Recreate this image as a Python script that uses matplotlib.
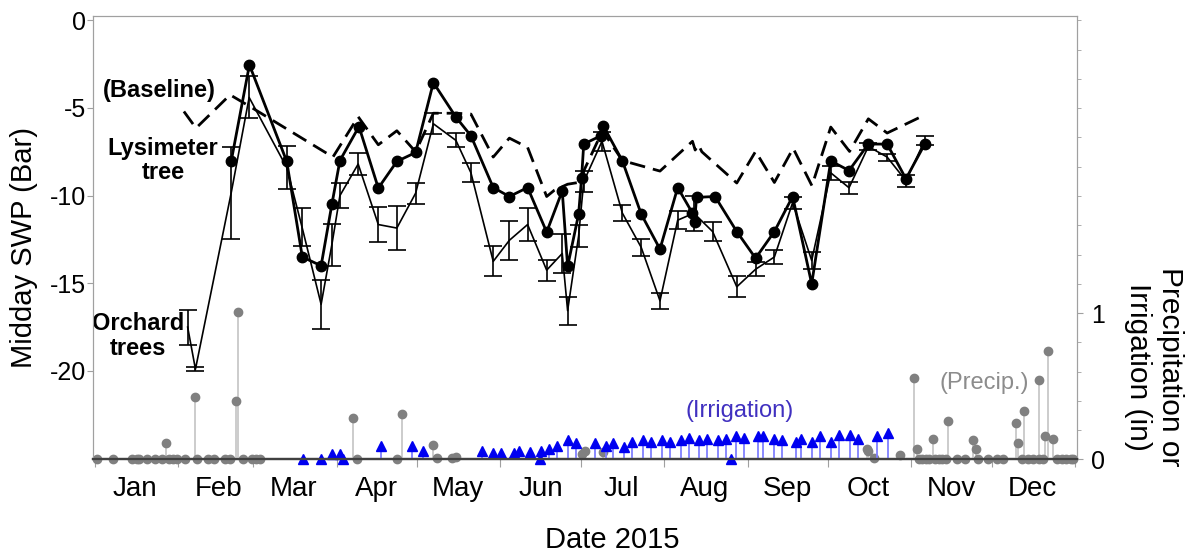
import matplotlib.pyplot as plt

plt.rcParams['font.family'] = ['Liberation Sans', 'DejaVu Sans']
plt.rcParams['axes.unicode_minus'] = False

# x axis = day of year 2015
month_starts = [0, 31, 59, 90, 120, 151, 181, 212, 243, 273, 304, 334, 365]
month_names = ['Jan', 'Feb', 'Mar', 'Apr', 'May', 'Jun',
               'Jul', 'Aug', 'Sep', 'Oct', 'Nov', 'Dec']

# midday stem water potential (bar)
baseline_day = [33.1, 37.6, 50.3, 57.5, 88.6, 98.0, 105.5, 112.4, 119.4, 126.0,
                134.4, 140.0, 148.3, 154.3, 161.1, 168.2, 171.0, 176.0, 180.0,
                189.0, 196.4, 210.4, 222.5, 223.5, 224.7, 226.0, 239.0, 246.0,
                253.0, 260.0, 267.0, 274.0, 281.0, 288.0, 295.0, 309.0]
baseline_swp = [-5.2, -6.15, -4.25, -4.9, -7.8, -5.5, -7.1, -6.3, -7.5, -5.3,
                -5.3, -5.35, -7.8, -6.72, -7.25, -10.05, -9.7, -9.35, -9.25,
                -6.3, -8.0, -8.6, -6.9, -7.4, -7.1, -7.5, -9.28, -7.48,
                -9.25, -7.3, -9.44, -6.09, -7.48, -5.62, -6.43, -5.4]

lys_day = [50.7, 57.5, 71.4, 77.2, 84.2, 88.2, 91.2, 98.3, 105.5, 112.4,
           119.4, 126.0, 134.4, 140.0, 148.3, 154.3, 161.1, 168.2, 174.0, 176.0,
           180.1, 181.2, 182.0, 188.3, 189.3, 196.4, 203.4, 210.4, 217.0, 222.5,
           223.3, 224.0, 230.9, 239.0, 246.0, 253.0, 259.8, 266.9, 274.0, 280.8,
           288.0, 295.0, 302.0, 309.0]
lys_swp = [-8.05, -2.54, -8.05, -13.5, -14.0, -10.5, -8.0, -6.06, -9.57, -8.05,
           -7.54, -3.55, -5.52, -6.59, -9.54, -10.05, -9.54, -12.08, -9.73, -14.04,
           -11.05, -9.0, -7.06, -6.59, -6.02, -8.02, -11.05, -13.05, -9.54, -11.0,
           -11.5, -10.1, -10.05, -12.05, -13.57, -12.05, -10.05, -15.03, -8.02, -8.57,
           -7.06, -7.06, -9.04, -7.06]

orch_day = [34.5, 37.4, 50.7, 57.4, 71.4, 77.1, 84.2, 88.2, 91.2, 98.0,
            105.5, 112.4, 119.4, 126.0, 134.4, 140.0, 148.3, 154.3, 161.1, 168.2,
            174.0, 176.0, 180.1, 182.0, 188.8, 196.4, 203.4, 210.4, 217.0, 223.0,
            230.0, 239.0, 246.0, 253.0, 259.8, 266.9, 274.0, 280.8, 288.0, 295.0,
            302.0, 309.0]
orch_swp = [-17.5, -19.9, -9.85, -4.4, -8.4, -11.8, -16.2, -12.8, -10.0, -8.2,
            -11.65, -11.85, -9.86, -5.9, -6.85, -8.7, -13.75, -12.55, -11.65, -14.25,
            -13.3, -16.56, -12.3, -9.2, -6.9, -11.0, -12.95, -16.0, -11.4, -11.0,
            -12.05, -15.2, -14.2, -13.5, -10.4, -13.7, -8.7, -9.55, -7.2, -7.8,
            -9.15, -6.85]
orch_err = [1.0, 0.1, 2.65, 1.2, 1.25, 1.1, 1.4, 1.2, 0.7, 0.65,
            1.0, 1.25, 0.6, 0.6, 0.4, 0.55, 0.85, 1.1, 0.95, 0.6,
            1.1, 0.8, 0.65, 0.6, 0.55, 0.45, 0.5, 0.45, 0.5, 1.0,
            0.55, 0.6, 0.4, 0.4, 0.35, 0.5, 0.4, 0.35, 0.2, 0.2,
            0.35, 0.25]

# precipitation and irrigation (in)
precip_day = [0.6, 6.6, 13.7, 15.5, 16.5, 19.5, 22.3, 24.8, 26.4, 27.7,
              29.2, 30.7, 33.5, 37.4, 38.1, 42.2, 44.3, 48.4, 50.3, 52.4,
              53.4, 55.2, 58.6, 59.9, 61.5, 96.2, 97.5, 112.4, 114.2, 126.0,
              127.4, 132.8, 134.4, 181.5, 182.5, 189.0, 287.4, 288.0, 290.0, 299.8,
              305.1, 306.0, 306.7, 308.0, 309.3, 310.5, 312.2, 313.0, 314.4, 315.6,
              317.0, 317.8, 321.0, 324.0, 327.1, 328.0, 329.0, 332.7, 335.8, 338.0,
              342.9, 343.9, 345.1, 346.0, 347.6, 349.5, 351.4, 351.7, 353.2, 353.8,
              354.8, 356.9, 358.2, 360.0, 361.7, 363.5, 364.4]
precip_in = [0, 0, 0, 0, 0, 0, 0, 0, 0.11, 0,
             0, 0, 0, 0.43, 0, 0, 0, 0, 0, 0.40,
             1.01, 0, 0, 0, 0, 0.28, 0, 0, 0.31, 0.10,
             0.01, 0.01, 0.02, 0.04, 0.06, 0.05, 0.07, 0.06, 0.01, 0.03,
             0.56, 0.07, 0, 0, 0, 0, 0.14, 0, 0, 0,
             0, 0.26, 0, 0, 0.13, 0.07, 0, 0, 0, 0,
             0.25, 0.11, 0, 0.33, 0, 0, 0, 0.54, 0, 0.16,
             0.74, 0.14, 0, 0, 0, 0, 0]

irr_day = [77.4, 84.2, 88.2, 91.2, 92.3, 106.4, 118.0, 122.0, 144.0, 148.3,
           151.1, 156.1, 157.9, 162.0, 165.6, 166.1, 169.2, 172.2, 176.0, 179.3,
           186.2, 190.3, 193.0, 197.1, 200.1, 204.2, 207.1, 211.2, 214.2, 218.1,
           221.2, 225.1, 227.8, 232.1, 234.9, 236.9, 238.7, 241.8, 246.8, 248.7,
           253.0, 256.0, 261.0, 262.9, 266.9, 270.0, 274.1, 277.1, 281.2, 284.1,
           291.1, 295.2]
irr_in = [0, 0, 0.04, 0.04, 0, 0.09, 0.09, 0.06, 0.06, 0.045,
          0.045, 0.045, 0.06, 0.05, 0, 0.06, 0.075, 0.095, 0.13, 0.11,
          0.11, 0.09, 0.11, 0.085, 0.12, 0.13, 0.12, 0.13, 0.12, 0.13,
          0.15, 0.13, 0.14, 0.13, 0.14, 0, 0.16, 0.15, 0.16, 0.16,
          0.14, 0.13, 0.12, 0.14, 0.12, 0.16, 0.12, 0.17, 0.17, 0.14,
          0.16, 0.18]

spine_gray = '#a0a0a0'

fig = plt.figure(figsize=(11.94, 5.56), dpi=100)
ax = fig.add_axes([0.0779, 0.1736, 0.8241, 0.7976])
ax2 = ax.twinx()

# SWP series
ax.plot(baseline_day, baseline_swp, color='black', lw=2, dashes=(5.6, 2.9))
ax.errorbar(orch_day, orch_swp, yerr=orch_err, color='black', lw=1.2,
            elinewidth=1.2, capsize=6.5, capthick=1.2)
ax.plot(lys_day, lys_swp, color='black', lw=2, marker='o', ms=7.5)

ax.set_xlim(-0.75, 365.7)
ax.set_ylim(-25.05, 0.245)
ax.set_yticks([0, -5, -10, -15, -20])
ax.set_xticks(month_starts)
ax.set_xticklabels([])
ax.set_xticks([s + 15 for s in month_starts[:-1]], minor=True)
ax.set_xticklabels(month_names, minor=True)
ax.tick_params(axis='x', which='major', length=6, color=spine_gray, direction='out')
ax.tick_params(axis='x', which='minor', length=0, pad=12, labelsize=20)
ax.tick_params(axis='y', length=4, pad=1, color=spine_gray, labelsize=18)

# precipitation / irrigation on right axis
ax2.vlines(precip_day, 0, precip_in, color='#c8c8c8', lw=1.3)
ax2.plot(precip_day, precip_in, 'o', color='#808080', ms=6, clip_on=False)
ax2.vlines(irr_day, 0, irr_in, color='#8080ff', lw=1.3)
ax2.plot(irr_day, irr_in, '^', color='#0000f0', ms=6.5, clip_on=False)
ax2.set_ylim(0, 3.03)
ax2.set_yticks([0, 1])
ax2.set_yticks([i * 0.2 for i in range(16)], minor=True)
ax2.tick_params(axis='y', which='major', length=4, pad=6, color=spine_gray, labelsize=18)
ax2.tick_params(axis='y', which='minor', length=3, color=spine_gray)

for a in (ax, ax2):
    for side in ('left', 'right', 'top'):
        a.spines[side].set_color(spine_gray)
    a.spines['bottom'].set_color('#404040')
    a.spines['bottom'].set_linewidth(1.6)

# labels
fig.text(0.0205, 0.554, 'Midday SWP (Bar)', rotation=90, ha='center', va='center', fontsize=21)
fig.text(0.9665, 0.34, 'Precipitation or\nIrrigation (in)', rotation=270,
         ha='center', va='center', multialignment='center', fontsize=21.5, linespacing=1.15)
fig.text(0.5126, 0.029, 'Date 2015', ha='center', va='center', fontsize=21)

ax.text(24, -3.98, '(Baseline)', ha='center', va='center', fontsize=17, fontweight='bold')
ax.text(25.3, -8.0, 'Lysimeter\ntree', ha='center', va='center', fontsize=17,
        fontweight='bold', linespacing=1.1)
ax.text(16, -18.0, 'Orchard\ntrees', ha='center', va='center', fontsize=17,
        fontweight='bold', linespacing=1.1)
ax2.text(331, 0.52, '(Precip.)', ha='center', va='center', fontsize=17, color='#8c8c8c')
ax2.text(240, 0.33, '(Irrigation)', ha='center', va='center', fontsize=17, color='#4030c0')

fig.savefig('out.png', dpi=100)
